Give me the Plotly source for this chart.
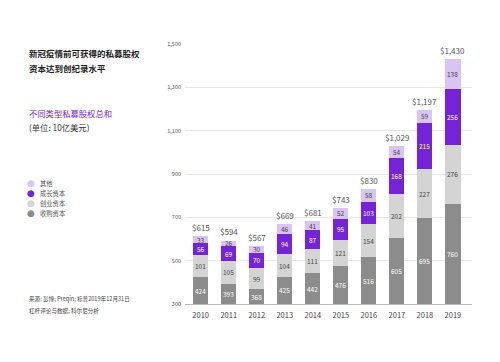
import plotly.graph_objects as go

years = ["2010", "2011", "2012", "2013", "2014", "2015", "2016", "2017", "2018", "2019"]
buyout = [424, 393, 368, 425, 442, 476, 516, 605, 695, 760]
venture = [101, 105, 99, 104, 111, 121, 154, 202, 227, 276]
growth = [56, 69, 70, 94, 87, 95, 103, 168, 215, 256]
other = [33, 26, 30, 46, 41, 52, 58, 54, 59, 138]
totals = [615, 594, 567, 669, 681, 743, 830, 1029, 1197, 1430]
total_labels = ["$615", "$594", "$567", "$669", "$681", "$743", "$830", "$1,029", "$1,197", "$1,430"]
y_ticks = [300, 500, 700, 900, 1100, 1300, 1500]
y_tick_labels = ["300", "500", "700", "900", "1,100", "1,300", "1,500"]
Y_MIN, Y_MAX = 300, 1500

series = [
    ("收购资本", buyout, "#8c8c8c", "#ffffff"),
    ("创业资本", venture, "#d4d4d4", "#444444"),
    ("成长资本", growth, "#7424d6", "#ffffff"),
    ("其他", other, "#d9c4f2", "#444444"),
]

FONT = "Noto Sans CJK SC, Inter, sans-serif"
fig = go.Figure()
annotations = []
base = [0] * len(years)
for name, vals, color, tcolor in series:
    fig.add_trace(go.Bar(x=years, y=vals, name=name, marker=dict(color=color, line=dict(width=0)),
                         showlegend=False, hoverinfo="skip"))
    for i, v in enumerate(vals):
        top = base[i] + v
        mid = (max(base[i], Y_MIN) + top) / 2
        annotations.append(dict(x=i, y=mid, xref="x", yref="y", text=str(v), showarrow=False,
                                font=dict(size=6.5, color=tcolor, family=FONT)))
        base[i] += v

for i, t in enumerate(totals):
    annotations.append(dict(x=i, y=t, xref="x", yref="y", text=total_labels[i], showarrow=False,
                            yanchor="bottom", yshift=1, font=dict(size=8, color="#555555", family=FONT)))

L, R, T, B = 185, 28, 44, 58
PW = 500 - L - R
PH = 362 - T - B

def px(xp):
    return (xp - L) / PW

def py(yp):
    return (362 - B - yp) / PH

def left_text(text, x, y, size, color, bold=False):
    annotations.append(dict(x=px(x), y=py(y), xref="paper", yref="paper", text=("<b>%s</b>" % text) if bold else text,
                            showarrow=False, xanchor="left", yanchor="middle",
                            font=dict(size=size, color=color, family=FONT)))

left_text("新冠疫情前可获得的私募股权", 27, 53, 8.5, "#222222", True)
left_text("资本达到创纪录水平", 27, 68, 8.5, "#222222", True)
left_text("不同类型私募股权总和", 27, 113, 8.3, "#7424d6")
left_text("(单位: 10亿美元)", 27, 127, 8.3, "#333333")

legend_items = [("其他", "#d9c4f2"), ("成长资本", "#7424d6"), ("创业资本", "#d4d4d4"), ("收购资本", "#8c8c8c")]
for k, (name, color) in enumerate(legend_items):
    yy = 183 + k * 10
    annotations.append(dict(x=px(31), y=py(yy), xref="paper", yref="paper", text="●", showarrow=False,
                            xanchor="center", yanchor="middle", font=dict(size=9, color=color, family="DejaVu Sans")))
    left_text(name, 38, yy, 6.3, "#555555")

left_text("来源: 彭博; Preqin; 标普2019年12月31日", 27, 299, 5.6, "#444444")
left_text("杠杆评论与数据; 科尔尼分析", 27, 311, 5.6, "#444444")

fig.update_layout(
    barmode="stack",
    bargap=0.46,
    width=500, height=362,
    margin=dict(l=L, r=R, t=T, b=B),
    paper_bgcolor="white", plot_bgcolor="white",
    font=dict(family=FONT),
    annotations=annotations,
    hovermode=False,
    xaxis=dict(type="category", range=[-0.56, 9.68], tickfont=dict(size=7.5, color="#444444"), showline=True,
               linecolor="#bbbbbb", linewidth=1, ticks="", ticklabelstandoff=4, fixedrange=True),
    yaxis=dict(range=[Y_MIN, Y_MAX], tickvals=y_ticks, ticktext=y_tick_labels, fixedrange=True,
               tickfont=dict(size=5.5, color="#555555"), showgrid=True, gridcolor="#e8e8e8",
               gridwidth=1, zeroline=False, ticks="", ticklabelstandoff=3),
)

fig.write_html("out.html", config={"displayModeBar": False},
               post_script="document.body.style.margin='0';")
